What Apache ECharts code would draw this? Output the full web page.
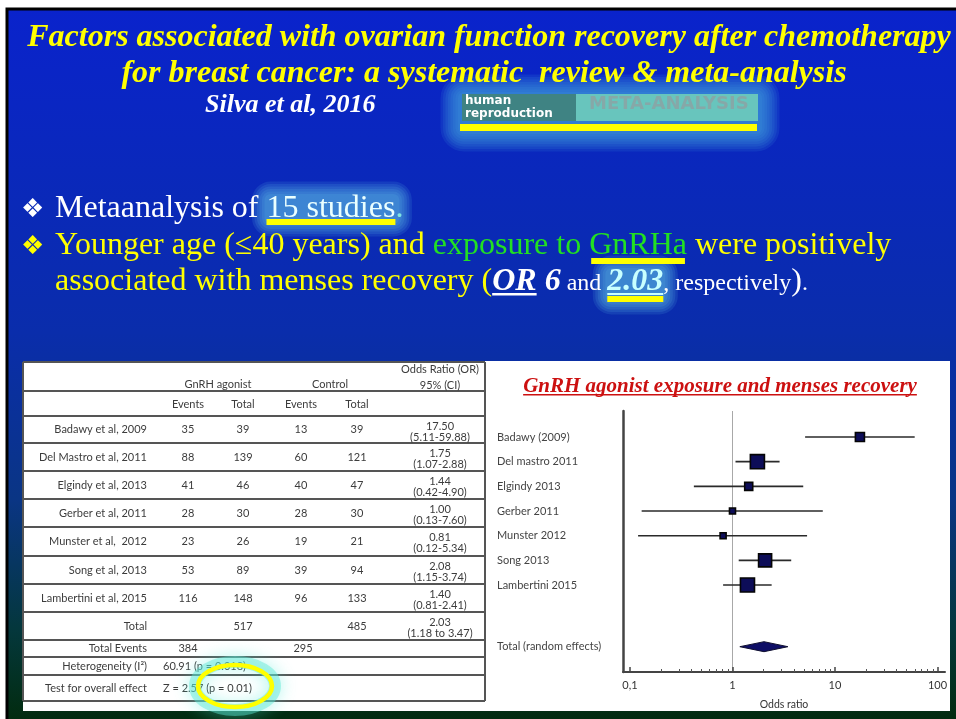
<!DOCTYPE html>
<html>
<head>
<meta charset="utf-8">
<script src="https://cdn.jsdelivr.net/npm/echarts@6/dist/echarts.min.js"></script>
<style>
html, body { margin: 0; padding: 0; background: #fff; }
#chart { width: 956px; height: 719px; }
</style>
</head>
<body>
<div id="chart"></div>
<script>
// ---- Study data (GnRH agonist vs control, menses recovery) ----
const tableStudies = ['Badawy et al, 2009', 'Del Mastro et al, 2011', 'Elgindy et al, 2013', 'Gerber et al, 2011', 'Munster et al,  2012', 'Song et al, 2013', 'Lambertini et al, 2015'];
const forestStudies = ['Badawy (2009)', 'Del mastro 2011', 'Elgindy 2013', 'Gerber 2011', 'Munster 2012', 'Song 2013', 'Lambertini 2015'];
const gnrhEvents = [35, 88, 41, 28, 23, 53, 116];
const gnrhTotal = [39, 139, 46, 30, 26, 89, 148];
const controlEvents = [13, 60, 40, 28, 19, 39, 96];
const controlTotal = [39, 121, 47, 30, 21, 94, 133];
const oddsRatio = [17.50, 1.75, 1.44, 1.00, 0.81, 2.08, 1.40];
const ciLower = [5.11, 1.07, 0.42, 0.13, 0.12, 1.15, 0.81];
const ciUpper = [59.88, 2.88, 4.90, 7.60, 5.34, 3.74, 2.41];
const studyWeight = [10.4, 25.2, 8.2, 4.6, 4.6, 21.7, 25.2];

// ---- Pooled result ----
const pooledLabel = 'Total (random effects)';
const pooledOR = [2.03];
const pooledLower = [1.18];
const pooledUpper = [3.47];
const totalParticipants = [517, 485];
const totalEvents = [384, 295];
const heterogeneityText = '60.91 (p = 0.018)';
const overallEffectText = 'Z = 2.57 (p = 0.01)';

// ---- Odds-ratio axis ticks ----
const xTickValues = [0.1, 1, 10, 100];
const xTickLabels = ['0,1', '1', '10', '100'];

// ---------------------------------------------------------------
const log10 = Math.log10;
const measureCtx = document.createElement('canvas').getContext('2d');
function textWidth(text, font) { measureCtx.font = font; return measureCtx.measureText(text).width; }
function midToBaseline(font) {
  measureCtx.font = font;
  measureCtx.textBaseline = 'middle';
  const m = measureCtx.measureText('H');
  measureCtx.textBaseline = 'alphabetic';
  const v = m.alphabeticBaseline;
  if (typeof v === 'number' && v !== 0) return Math.abs(v);
  return 0.34 * parseFloat(font.match(/([\d.]+)px/)[1]);
}

const graphics = [];
function textAt(text, x, baseline, font, fill, align, z) {
  graphics.push({
    type: 'text', z: z || 10, silent: true,
    style: { text: text, x: x, y: baseline - midToBaseline(font), font: font, fill: fill,
      align: align || 'left', verticalAlign: 'middle', textAlign: align || 'left', textVerticalAlign: 'middle' }
  });
}
// lays out a run of differently styled pieces on one baseline; returns each piece's span
function textLine(runs, x0, baseline) {
  let x = x0;
  const spans = [];
  runs.forEach(r => {
    const w = textWidth(r.t, r.font);
    textAt(r.t, x, baseline, r.font, r.fill);
    spans.push({ x: x, w: w });
    x += w;
  });
  return spans;
}
function rect(x, y, w, h, style, z, r) {
  graphics.push({ type: 'rect', z: z, silent: true, shape: { x: x, y: y, width: w, height: h, r: r || 0 }, style: style });
}
// soft halo built from stacked translucent layers
function glow(x, y, w, h, color, layers) {
  const n = layers || 7;
  for (let k = 0; k < n; k++) {
    const p = k * 2.5;
    rect(x - p, y - p, w + 2 * p, h + 2 * p, { fill: color }, 2, 6 + p);
  }
}

// ---- slide background ----
rect(7, 9, 960, 720, {
  fill: new echarts.graphic.LinearGradient(0, 0, 0, 1, [
    { offset: 0, color: '#0a23cc' },
    { offset: 0.45, color: '#0a2dab' },
    { offset: 0.68, color: '#0a3584' },
    { offset: 0.86, color: '#04373c' },
    { offset: 1, color: '#022a0a' }
  ]),
  stroke: '#000', lineWidth: 3
}, -10);
// white panels for the table and the forest plot
rect(23, 361, 466, 350, { fill: '#ffffff' }, -9);
rect(489, 361, 461, 350, { fill: '#ffffff' }, -9);

// ---- headline ----
const TITLE_FONT = 'bold italic 32px "Liberation Serif"';
textAt('Factors associated with ovarian function recovery after chemotherapy', 489, 46, TITLE_FONT, '#ffff00', 'center');
textAt('for breast cancer: a systematic  review & meta-analysis', 484, 82, TITLE_FONT, '#ffff00', 'center');
textAt('Silva et al, 2016', 205, 112, 'bold italic 26px "Liberation Serif"', '#ffffff');

// journal badge
glow(458, 92, 304, 42, 'rgba(70,170,225,0.13)', 8);
rect(462, 94, 114, 27, { fill: '#3f8383' }, 4);
rect(576, 94, 182, 27, { fill: '#68c5bd' }, 4);
textAt('human', 465, 104, 'bold 12px "DejaVu Sans"', '#ffffff');
textAt('reproduction', 465, 117, 'bold 12px "DejaVu Sans"', '#ffffff');
textAt('META-ANALYSIS', 589, 109, 'bold 18px "DejaVu Sans"', '#86a8a8');
rect(460, 124, 297, 7, { fill: '#ffff00' }, 4);

// ---- bullet points ----
const BODY = '32px "Liberation Serif"';
const BODY_BI = 'bold italic 32px "Liberation Serif"';
const SMALL = '24px "Liberation Serif"';
const BULLET = '26px "DejaVu Sans"';
const YEL = '#ffff00', GRN = '#22e022', WHT = '#ffffff';

textAt('\u2756', 21, 217, BULLET, WHT);
const l1 = textLine([
  { t: 'Metaanalysis of ', font: BODY, fill: WHT },
  { t: '15 studies', font: BODY, fill: '#eaffff' },
  { t: '.', font: BODY, fill: '#7fe3e3' }
], 55, 217);
glow(l1[1].x - 2, 194, l1[1].w + 6, 30, 'rgba(110,215,235,0.12)', 6);
rect(l1[1].x, 219, l1[1].w, 6, { fill: YEL }, 11);

textAt('\u2756', 21, 254, BULLET, YEL);
const l2 = textLine([
  { t: 'Younger age (', font: BODY, fill: YEL },
  { t: '\u226440 years) and ', font: BODY, fill: YEL },
  { t: 'exposure to ', font: BODY, fill: GRN },
  { t: 'GnRHa', font: BODY, fill: GRN },
  { t: ' were positively', font: BODY, fill: YEL }
], 55, 254);
rect(l2[3].x + 2, 258, l2[3].w - 4, 6, { fill: YEL }, 11);

const l3 = textLine([
  { t: 'associated with menses recovery (', font: BODY, fill: YEL },
  { t: 'OR', font: BODY_BI, fill: WHT },
  { t: ' 6', font: BODY_BI, fill: WHT },
  { t: ' and ', font: SMALL, fill: WHT },
  { t: '2.03', font: BODY_BI, fill: '#c8ffff' },
  { t: ', respectively', font: SMALL, fill: WHT },
  { t: ')', font: BODY, fill: WHT },
  { t: '.', font: SMALL, fill: WHT }
], 55, 290);
rect(l3[1].x, 293, l3[1].w, 2.5, { fill: WHT }, 11);
glow(l3[4].x - 2, 268, l3[4].w + 4, 34, 'rgba(110,215,235,0.12)', 6);
rect(l3[4].x, 293, l3[4].w, 2, { fill: '#c8ffff' }, 11);
rect(l3[4].x, 296, l3[4].w, 6, { fill: YEL }, 11);

// ---- forest plot heading ----
const FT_FONT = 'bold italic 21px "Liberation Serif"';
const ftW = textWidth('GnRH agonist exposure and menses recovery', FT_FONT);
textAt('GnRH agonist exposure and menses recovery', 720, 392, FT_FONT, '#cc1010', 'center');
rect(720 - ftW / 2, 394, ftW, 1.6, { fill: '#cc1010' }, 11);

// ---- highlight ring over the overall-effect p value ----
graphics.push({
  type: 'ellipse', z: 30, silent: true,
  shape: { cx: 235, cy: 686, rx: 40, ry: 24 },
  style: { fill: 'none', stroke: 'rgba(90,230,210,0.45)', lineWidth: 12, shadowBlur: 16, shadowColor: 'rgba(80,235,215,0.95)' }
});
graphics.push({
  type: 'ellipse', z: 31, silent: true,
  shape: { cx: 235, cy: 686, rx: 37, ry: 21 },
  style: { fill: 'none', stroke: '#ffff00', lineWidth: 4.5 }
});

// ---- table layout (grid 0, pixel-like units) ----
const TBL = { left: 23, top: 362, width: 462, height: 339 };
const rowEdges = [0, 29, 54, 81, 109, 137, 165, 194, 222, 250, 278, 295, 313, 339];
const COL = { name: 124, ev1: 165, tot1: 220, ev2: 278, tot2: 334, or: 417, note: 140 };

const tableCells = [];
function addCell(x, y, text, align) { tableCells.push({ value: [x, y], text: String(text), align: align || 'center' }); }
addCell(195, 22, 'GnRH agonist');
addCell(307, 22, 'Control');
addCell(COL.or, 7, 'Odds Ratio (OR)');
addCell(COL.or, 23, '95% (CI)');
addCell(COL.ev1, 42, 'Events'); addCell(COL.tot1, 42, 'Total');
addCell(COL.ev2, 42, 'Events'); addCell(COL.tot2, 42, 'Total');
tableStudies.forEach((s, i) => {
  const top = rowEdges[2 + i], mid = (top + rowEdges[3 + i]) / 2;
  addCell(COL.name, mid, s, 'right');
  addCell(COL.ev1, mid, gnrhEvents[i]);
  addCell(COL.tot1, mid, gnrhTotal[i]);
  addCell(COL.ev2, mid, controlEvents[i]);
  addCell(COL.tot2, mid, controlTotal[i]);
  addCell(COL.or, top + 10, oddsRatio[i].toFixed(2));
  addCell(COL.or, top + 21, '(' + ciLower[i].toFixed(2) + '-' + ciUpper[i].toFixed(2) + ')');
});
{
  const top = rowEdges[9], mid = (top + rowEdges[10]) / 2;
  addCell(COL.name, mid, 'Total', 'right');
  addCell(COL.tot1, mid, totalParticipants[0]);
  addCell(COL.tot2, mid, totalParticipants[1]);
  addCell(COL.or, top + 10, pooledOR[0].toFixed(2));
  addCell(COL.or, top + 21, '(' + pooledLower[0].toFixed(2) + ' to ' + pooledUpper[0].toFixed(2) + ')');
  const m2 = (rowEdges[10] + rowEdges[11]) / 2;
  addCell(COL.name, m2, 'Total Events', 'right');
  addCell(COL.ev1, m2, totalEvents[0]);
  addCell(COL.ev2 + 2, m2, totalEvents[1]);
  const m3 = (rowEdges[11] + rowEdges[12]) / 2;
  addCell(COL.name, m3, 'Heterogeneity (I\u00b2)', 'right');
  addCell(COL.note, m3, heterogeneityText, 'left');
  const m4 = (rowEdges[12] + rowEdges[13]) / 2;
  addCell(COL.name, m4, 'Test for overall effect', 'right');
  addCell(COL.note, m4, overallEffectText, 'left');
}
const tableRules = rowEdges.map(e => [0, e, TBL.width, e])
  .concat([[0, 0, 0, TBL.height], [TBL.width, 0, TBL.width, TBL.height]]);

// ---- forest plot layout (grid 1, log10 odds-ratio scale) ----
const pooledRow = forestStudies.length + 1.5;
const minorTicks = [];
[-1, 0, 1].forEach(d => { for (let k = 2; k <= 9; k++) minorTicks.push(log10(k) + d); });
const LABEL_FONT = 'Lato';

const chart = echarts.init(document.getElementById('chart'));
chart.setOption({
  animation: false,
  backgroundColor: '#ffffff',
  graphic: { elements: graphics },
  grid: [
    { left: TBL.left, top: TBL.top, width: TBL.width, height: TBL.height },
    { left: 623, top: 411, width: 322, height: 261 }
  ],
  xAxis: [
    { gridIndex: 0, type: 'value', min: 0, max: TBL.width, show: false },
    {
      gridIndex: 1, type: 'value', min: -1.068, max: 2.073, position: 'bottom', z: 8,
      axisLine: { show: true, onZero: false, lineStyle: { color: '#444', width: 2 } },
      axisTick: { show: true, inside: true, length: 5, lineStyle: { color: '#444', width: 1.5 }, customValues: xTickValues.map(log10) },
      axisLabel: {
        show: true, margin: 8, color: '#333', fontFamily: LABEL_FONT, fontSize: 11,
        customValues: xTickValues.map(log10),
        formatter: v => { const i = xTickValues.findIndex(t => Math.abs(log10(t) - v) < 1e-6); return i >= 0 ? xTickLabels[i] : ''; }
      },
      splitLine: { show: false },
      name: 'Odds ratio', nameLocation: 'middle', nameGap: 27,
      nameTextStyle: { color: '#333', fontFamily: LABEL_FONT, fontSize: 10.5 }
    },
    {
      gridIndex: 1, type: 'value', min: -1.068, max: 2.073, position: 'bottom', z: 8,
      axisLine: { show: false, onZero: false },
      axisTick: { show: true, inside: true, length: 3, lineStyle: { color: '#555', width: 1 }, customValues: minorTicks },
      axisLabel: { show: false },
      splitLine: { show: false }
    }
  ],
  yAxis: [
    { gridIndex: 0, type: 'value', min: 0, max: TBL.height, inverse: true, show: false },
    {
      gridIndex: 1, type: 'value', min: -1.054, max: 9.526, inverse: true, z: 8,
      axisLine: { show: true, onZero: false, lineStyle: { color: '#444', width: 2.5 } },
      axisTick: { show: false },
      splitLine: { show: false },
      axisLabel: {
        show: true, align: 'left', margin: 126, color: '#444', fontFamily: LABEL_FONT, fontSize: 11,
        customValues: forestStudies.map((_, i) => i).concat([pooledRow]),
        formatter: v => (Math.abs(v - pooledRow) < 1e-6 ? pooledLabel : forestStudies[Math.round(v)])
      }
    }
  ],
  series: [
    {
      name: 'table rules', type: 'custom', xAxisIndex: 0, yAxisIndex: 0, silent: true, z: 3,
      data: tableRules,
      encode: { x: [0, 2], y: [1, 3] },
      renderItem: (params, api) => {
        const a = api.coord([api.value(0), api.value(1)]);
        const b = api.coord([api.value(2), api.value(3)]);
        return { type: 'line', shape: { x1: a[0], y1: a[1], x2: b[0], y2: b[1] }, style: { stroke: '#555', lineWidth: 2 } };
      }
    },
    {
      name: 'table cells', type: 'custom', xAxisIndex: 0, yAxisIndex: 0, silent: true, z: 4,
      data: tableCells.map(c => c.value),
      encode: { x: 0, y: 1 },
      renderItem: (params, api) => {
        const c = tableCells[params.dataIndex];
        const p = api.coord([api.value(0), api.value(1)]);
        return {
          type: 'text', x: p[0], y: p[1],
          style: { text: c.text, font: '11px "Lato"', fill: '#3c3c3c', align: c.align, verticalAlign: 'middle', textAlign: c.align, textVerticalAlign: 'middle' }
        };
      }
    },
    {
      name: 'studies', type: 'custom', xAxisIndex: 1, yAxisIndex: 1, silent: true, z: 5,
      data: forestStudies.map((_, i) => [log10(ciLower[i]), log10(ciUpper[i]), log10(oddsRatio[i]), i, studyWeight[i]]),
      encode: { x: [0, 1, 2], y: 3 },
      renderItem: (params, api) => {
        const row = api.value(3);
        const lo = api.coord([api.value(0), row]);
        const hi = api.coord([api.value(1), row]);
        const c = api.coord([api.value(2), row]);
        const s = 2.8 * Math.sqrt(api.value(4));
        return {
          type: 'group',
          children: [
            { type: 'line', shape: { x1: lo[0], y1: lo[1], x2: hi[0], y2: hi[1] }, style: { stroke: '#2a2a2a', lineWidth: 1.6 } },
            { type: 'rect', shape: { x: c[0] - s / 2, y: c[1] - s / 2, width: s, height: s }, style: { fill: '#0d0d58', stroke: '#050505', lineWidth: 1.6 } }
          ]
        };
      },
      markLine: {
        silent: true, symbol: 'none', label: { show: false },
        lineStyle: { color: '#a8a8a8', width: 1, type: 'solid' },
        data: [{ xAxis: 0 }]
      }
    },
    {
      name: 'pooled', type: 'custom', xAxisIndex: 1, yAxisIndex: 1, silent: true, z: 6,
      data: pooledOR.map((v, i) => [log10(pooledLower[i]), log10(pooledUpper[i]), log10(v), pooledRow]),
      encode: { x: [0, 1, 2], y: 3 },
      renderItem: (params, api) => {
        const row = api.value(3);
        const lo = api.coord([api.value(0), row]);
        const hi = api.coord([api.value(1), row]);
        const c = api.coord([api.value(2), row]);
        return {
          type: 'polygon',
          shape: { points: [lo, [c[0], c[1] - 5], hi, [c[0], c[1] + 5]] },
          style: { fill: '#0e0e66', stroke: '#101030', lineWidth: 1 }
        };
      }
    }
  ]
});
</script>
</body>
</html>
